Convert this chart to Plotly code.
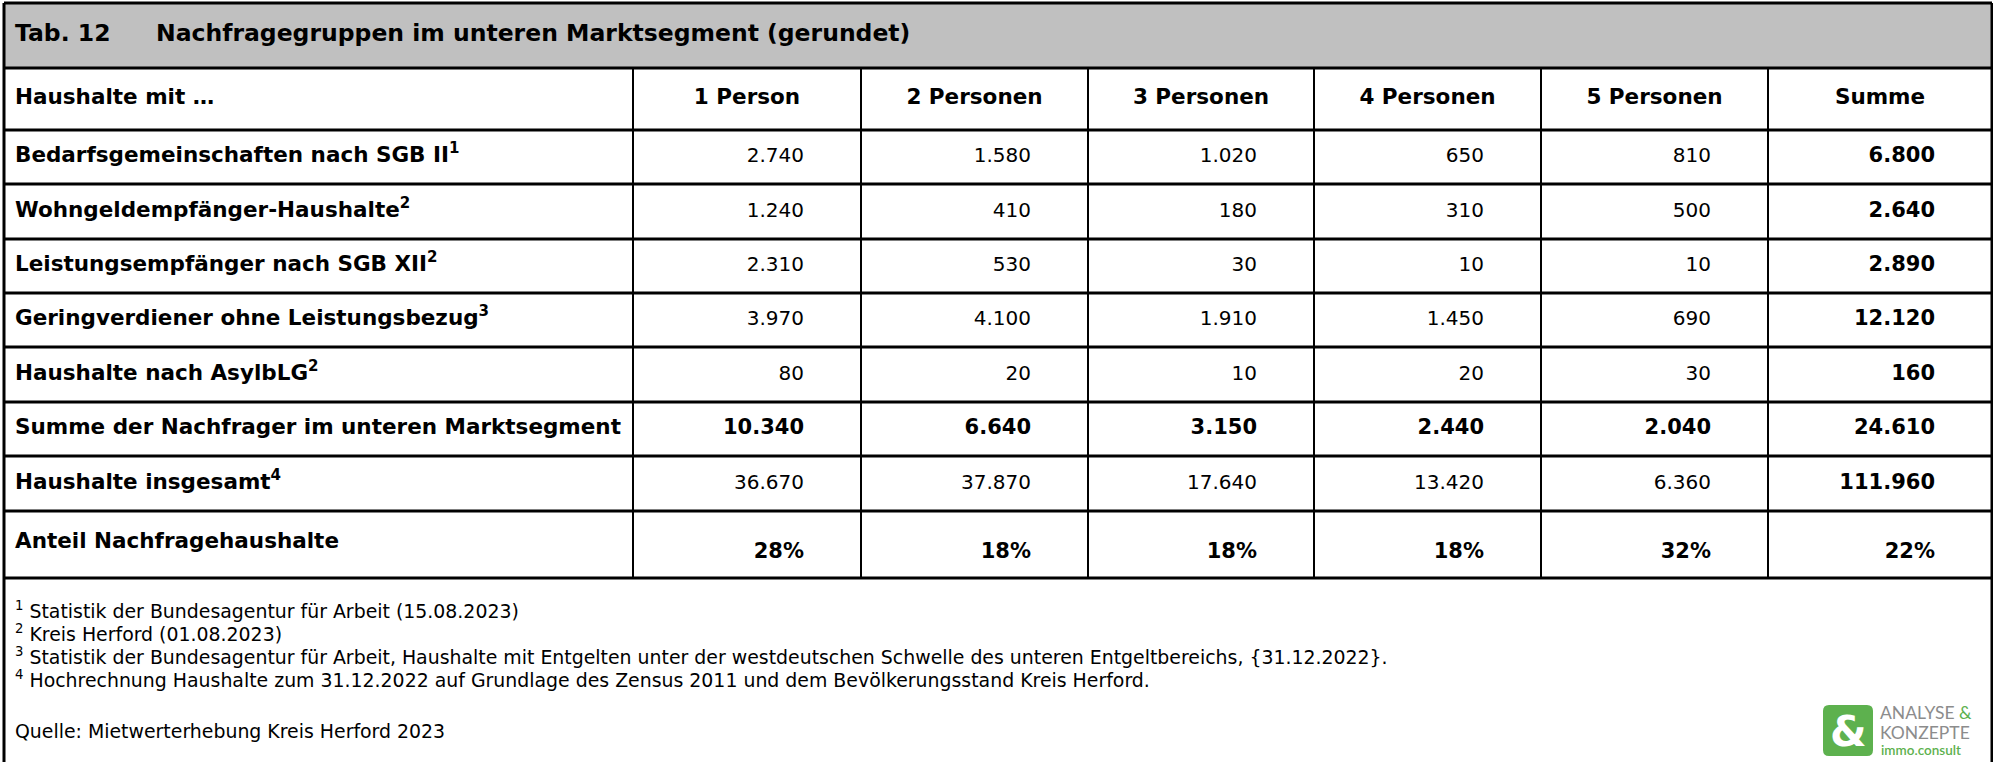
import plotly.graph_objects as go

# ---------------- data ----------------
title_tab = "Tab. 12"
title_text = "Nachfragegruppen im unteren Marktsegment (gerundet)"
corner_label = "Haushalte mit …"
categories = ["1 Person", "2 Personen", "3 Personen", "4 Personen", "5 Personen", "Summe"]
row_labels = [
    "Bedarfsgemeinschaften nach SGB II<sup>1</sup>",
    "Wohngeldempfänger-Haushalte<sup>2</sup>",
    "Leistungsempfänger nach SGB XII<sup>2</sup>",
    "Geringverdiener ohne Leistungsbezug<sup>3</sup>",
    "Haushalte nach AsylbLG<sup>2</sup>",
    "Summe der Nachfrager im unteren Marktsegment",
    "Haushalte insgesamt<sup>4</sup>",
    "Anteil Nachfragehaushalte",
]
bedarfsgemeinschaften = [2740, 1580, 1020, 650, 810, 6800]
wohngeld = [1240, 410, 180, 310, 500, 2640]
sgb_xii = [2310, 530, 30, 10, 10, 2890]
geringverdiener = [3970, 4100, 1910, 1450, 690, 12120]
asylblg = [80, 20, 10, 20, 30, 160]
summe_nachfrager = [10340, 6640, 3150, 2440, 2040, 24610]
haushalte_insgesamt = [36670, 37870, 17640, 13420, 6360, 111960]
anteil_pct = [28, 18, 18, 18, 32, 22]
footnotes = [
    "<sup>1</sup> Statistik der Bundesagentur für Arbeit (15.08.2023)",
    "<sup>2</sup> Kreis Herford (01.08.2023)",
    "<sup>3</sup> Statistik der Bundesagentur für Arbeit, Haushalte mit Entgelten unter der westdeutschen Schwelle des unteren Entgeltbereichs, {31.12.2022}.",
    "<sup>4</sup> Hochrechnung Haushalte zum 31.12.2022 auf Grundlage des Zensus 2011 und dem Bevölkerungsstand Kreis Herford.",
]
source = "Quelle: Mietwerterhebung Kreis Herford 2023"
logo_lines = ["ANALYSE", "KONZEPTE", "immo.consult"]

# ---------------- layout geometry ----------------
W, H = 1993, 762
col_edges = [4, 633, 861, 1088, 1314, 1541, 1768, 1992]
row_edges = [3, 68, 130, 184, 239, 293, 347, 402, 456, 511, 578]
FONT = "Tahoma, DejaVu Sans, sans-serif"
TITLE_SIZE = 23.5
LBL_SIZE = 21.5
NUM_SIZE = 20
BOLD_NUM_SIZE = 21
FN_SIZE = 18.9
PAD_R = 57
TXT_X = 15
BLACK = "#000000"
GREEN = "#5db14e"
GREY = "#8c8c8c"


def fmt(v):
    return f"{v:,}".replace(",", ".")


def mid(a, b):
    return (a + b) / 2


numeric_rows = [bedarfsgemeinschaften, wohngeld, sgb_xii, geringverdiener, asylblg,
                summe_nachfrager, haushalte_insgesamt]
bold_rows = {5}

fig = go.Figure()
shapes = []

# title bar
shapes.append(dict(type="rect", x0=col_edges[0], x1=col_edges[-1], y0=row_edges[0], y1=row_edges[1],
                   fillcolor="#c0c0c0", line=dict(width=0), layer="below"))
# horizontal lines
for y in row_edges:
    shapes.append(dict(type="line", x0=col_edges[0], x1=col_edges[-1], y0=y, y1=y,
                       line=dict(color=BLACK, width=3)))
# vertical inner dividers
for x in col_edges[1:-1]:
    shapes.append(dict(type="line", x0=x, x1=x, y0=row_edges[1], y1=row_edges[-1],
                       line=dict(color=BLACK, width=2)))
# outer left / right borders
for x in (col_edges[0], col_edges[-1]):
    shapes.append(dict(type="line", x0=x, x1=x, y0=row_edges[0], y1=H,
                       line=dict(color=BLACK, width=3)))


def text_trace(x, y, text, pos, size, color=BLACK, family=FONT):
    return go.Scatter(x=x, y=y, text=text, mode="text", textposition=pos,
                      textfont=dict(family=family, size=size, color=color),
                      hoverinfo="skip", cliponaxis=False)


# title
ty = mid(row_edges[0], row_edges[1])
fig.add_trace(text_trace([TXT_X, 156], [ty, ty],
                         [f"<b>{title_tab}</b>", f"<b>{title_text}</b>"], "middle right", TITLE_SIZE))

# header row
hy = mid(row_edges[1], row_edges[2])
fig.add_trace(text_trace([TXT_X], [hy], [f"<b>{corner_label}</b>"], "middle right", LBL_SIZE))
fig.add_trace(text_trace([mid(col_edges[i + 1], col_edges[i + 2]) for i in range(len(categories))],
                         [hy] * len(categories), [f"<b>{c}</b>" for c in categories],
                         "middle center", LBL_SIZE))

# row labels
lbl_y = [mid(row_edges[r + 2], row_edges[r + 3]) for r in range(len(row_labels))]
lbl_y[-1] -= 2
fig.add_trace(text_trace([TXT_X] * len(row_labels), lbl_y,
                         [f"<b>{t}</b>" for t in row_labels], "middle right", LBL_SIZE))

# numeric cells
rx, ry, rt = [], [], []
bx, by, bt = [], [], []
for r, vals in enumerate(numeric_rows):
    y = mid(row_edges[r + 2], row_edges[r + 3])
    for c, v in enumerate(vals):
        x = col_edges[c + 2] - PAD_R
        if r in bold_rows or c == len(vals) - 1:
            bx.append(x); by.append(y); bt.append(f"<b>{fmt(v)}</b>")
        else:
            rx.append(x); ry.append(y); rt.append(fmt(v))
y_pct = mid(row_edges[-2], row_edges[-1]) + 8
for c, v in enumerate(anteil_pct):
    bx.append(col_edges[c + 2] - PAD_R); by.append(y_pct); bt.append(f"<b>{v}%</b>")
fig.add_trace(text_trace(rx, ry, rt, "middle left", NUM_SIZE))
fig.add_trace(text_trace(bx, by, bt, "middle left", BOLD_NUM_SIZE))

# footnotes and source
fn_y = [613, 636, 659, 682]
fig.add_trace(text_trace([TXT_X] * len(footnotes), fn_y, footnotes, "middle right", FN_SIZE))
fig.add_trace(text_trace([TXT_X], [733], [source], "middle right", FN_SIZE))

# logo: rounded green square
x0, x1, y0, y1, rr = 1823, 1873, 705, 756, 6
shapes.append(dict(
    type="path",
    path=(f"M {x0+rr},{y0} L {x1-rr},{y0} Q {x1},{y0} {x1},{y0+rr} L {x1},{y1-rr} "
          f"Q {x1},{y1} {x1-rr},{y1} L {x0+rr},{y1} Q {x0},{y1} {x0},{y1-rr} "
          f"L {x0},{y0+rr} Q {x0},{y0} {x0+rr},{y0} Z"),
    fillcolor=GREEN, line=dict(width=0), layer="above"))
annotations = [
    dict(x=mid(x0, x1), y=mid(y0, y1) + 1, text="<b>&</b>", showarrow=False, xref="x", yref="y",
         font=dict(family="DejaVu Sans", size=42, color="white"), xanchor="center", yanchor="middle"),
    dict(x=1878, y=712, text=f"{logo_lines[0]} <span style='color:{GREEN}'>&</span>", showarrow=False,
         xref="x", yref="y", font=dict(family="Lato, DejaVu Sans", size=17.5, color=GREY),
         xanchor="left", yanchor="middle"),
    dict(x=1878, y=732, text=logo_lines[1], showarrow=False, xref="x", yref="y",
         font=dict(family="Lato, DejaVu Sans", size=17.5, color=GREY), xanchor="left", yanchor="middle"),
    dict(x=1879, y=750, text=logo_lines[2], showarrow=False, xref="x", yref="y",
         font=dict(family="Lato, DejaVu Sans", size=13.5, color=GREEN, weight=600),
         xanchor="left", yanchor="middle"),
]

fig.update_layout(
    width=W, height=H,
    margin=dict(l=0, r=0, t=0, b=0),
    paper_bgcolor="white", plot_bgcolor="white",
    showlegend=False,
    shapes=shapes,
    annotations=annotations,
    xaxis=dict(range=[0, W], visible=False, fixedrange=True),
    yaxis=dict(range=[H, 0], visible=False, fixedrange=True),
)

fig.write_html(
    "out.html",
    config={"displayModeBar": False},
    post_script="document.body.style.margin='0';document.body.style.overflow='hidden';",
)
